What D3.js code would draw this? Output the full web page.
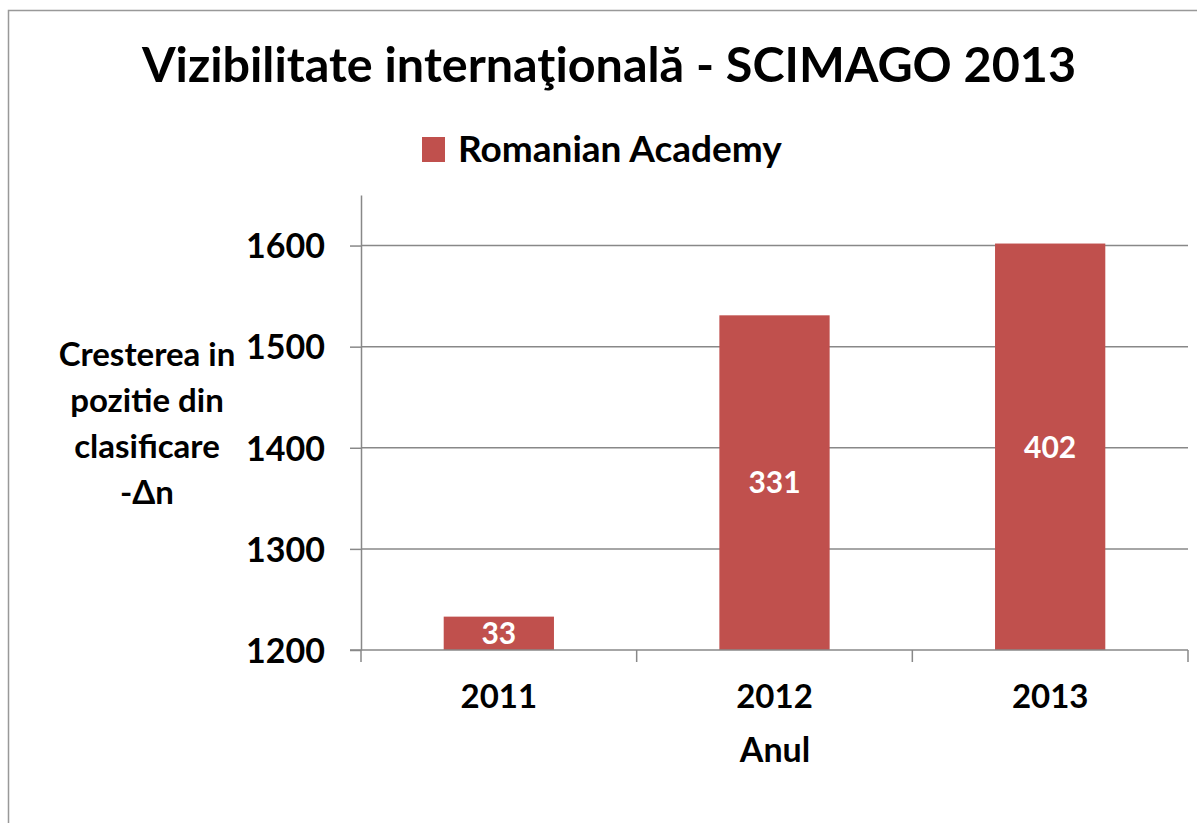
<!DOCTYPE html>
<html>
<head>
<meta charset="utf-8">
<script src="https://cdn.jsdelivr.net/npm/d3@7"></script>
<style>
  body { margin: 0; background: #fff; }
  svg text { font-family: Lato, "Open Sans", sans-serif; font-weight: bold; fill: #000; }
</style>
</head>
<body>
<svg width="1197" height="823"></svg>
<script>
// data
var years = ["2011", "2012", "2013"];
var values = [1233, 1531, 1602];      // bar tops on the axis
var labels = ["33", "331", "402"];    // numbers written inside bars
var yTicks = [1200, 1300, 1400, 1500, 1600];
var yTitleLines = ["Cresterea in", "pozitie din", "clasificare", "-\u0394n"];

function main() {
  var svg = d3.select("svg");
  var barColor = "#c0504d", lineColor = "#888888";

  // outer frame (right and bottom edges are cut off)
  svg.append("rect")
    .attr("x", 8.5).attr("y", 10.5)
    .attr("width", 1300).attr("height", 1000)
    .attr("fill", "none").attr("stroke", "#999").attr("stroke-width", 1.5);

  var plotLeft = 361, plotRight = 1188, plotTop = 195, plotBottom = 650;

  var xScale = d3.scaleBand().domain(years).range([plotLeft, plotRight]).padding(0);
  var yScale = d3.scaleLinear().domain([1200, 1650]).range([plotBottom, plotTop]);

  var g = svg.append("g");

  // gridlines
  g.selectAll(".grid").data(yTicks.slice(1)).enter().append("line")
    .attr("x1", plotLeft).attr("x2", plotRight)
    .attr("y1", function(d){ return yScale(d); })
    .attr("y2", function(d){ return yScale(d); })
    .attr("stroke", lineColor).attr("stroke-width", 1.5);

  // y axis
  var yAxis = g.append("g").attr("transform", "translate(" + plotLeft + ",0)")
    .call(d3.axisLeft(yScale).tickValues(yTicks).tickFormat(d3.format("d"))
      .tickSize(11).tickSizeOuter(0).tickPadding(25));
  yAxis.select(".domain").attr("stroke", lineColor).attr("stroke-width", 1.5);
  yAxis.selectAll(".tick line").attr("stroke", lineColor).attr("stroke-width", 1.5);
  yAxis.selectAll(".tick text").attr("font-size", 34).attr("dy", "0.36em")
    .style("font-family", "Lato, sans-serif").style("font-weight", "bold").style("fill", "#000");

  // bars
  var bw = xScale.bandwidth() * 0.4;
  g.selectAll(".bar").data(values).enter().append("rect")
    .attr("x", function(d, i){ return xScale(years[i]) + (xScale.bandwidth() - bw) / 2; })
    .attr("y", function(d){ return yScale(d); })
    .attr("width", bw)
    .attr("height", function(d){ return plotBottom - yScale(d); })
    .attr("fill", barColor);

  // x axis: line plus boundary ticks
  g.append("line").attr("x1", plotLeft - 11).attr("x2", plotRight)
    .attr("y1", plotBottom).attr("y2", plotBottom)
    .attr("stroke", lineColor).attr("stroke-width", 1.5);
  var bounds = years.map(function(y){ return xScale(y); }).concat([plotRight]);
  g.selectAll(".xtick").data(bounds).enter().append("line")
    .attr("x1", function(d){ return d; }).attr("x2", function(d){ return d; })
    .attr("y1", plotBottom).attr("y2", plotBottom + 12)
    .attr("stroke", lineColor).attr("stroke-width", 1.5);
  g.selectAll(".xlab").data(years).enter().append("text")
    .attr("x", function(d){ return xScale(d) + xScale.bandwidth() / 2; })
    .attr("y", 708).attr("text-anchor", "middle").attr("font-size", 33)
    .text(function(d){ return d; });

  // labels inside bars
  g.selectAll(".val").data(values).enter().append("text")
    .attr("x", function(d, i){ return xScale(years[i]) + xScale.bandwidth() / 2; })
    .attr("y", function(d){ return (yScale(d) + plotBottom) / 2; })
    .attr("dy", "0.36em").attr("text-anchor", "middle").attr("font-size", 30)
    .style("fill", "#fff")
    .text(function(d, i){ return labels[i]; });

  // title
  svg.append("text").attr("x", 609).attr("y", 82).attr("text-anchor", "middle")
    .attr("font-size", 48.5).text("Vizibilitate interna\u0163ional\u0103 - SCIMAGO 2013");

  // legend
  svg.append("rect").attr("x", 422).attr("y", 137).attr("width", 23).attr("height", 25).attr("fill", barColor);
  svg.append("text").attr("x", 458).attr("y", 162).attr("font-size", 37).text("Romanian Academy");

  // axis titles
  svg.append("text").attr("x", 775).attr("y", 762).attr("text-anchor", "middle")
    .attr("font-size", 34).text("Anul");
  svg.append("g").selectAll("text").data(yTitleLines).enter().append("text")
    .attr("x", 147).attr("y", function(d, i){ return 366 + i * 46; })
    .attr("text-anchor", "middle").attr("font-size", 33)
    .text(function(d){ return d; });
}

main();
</script>
</body>
</html>
